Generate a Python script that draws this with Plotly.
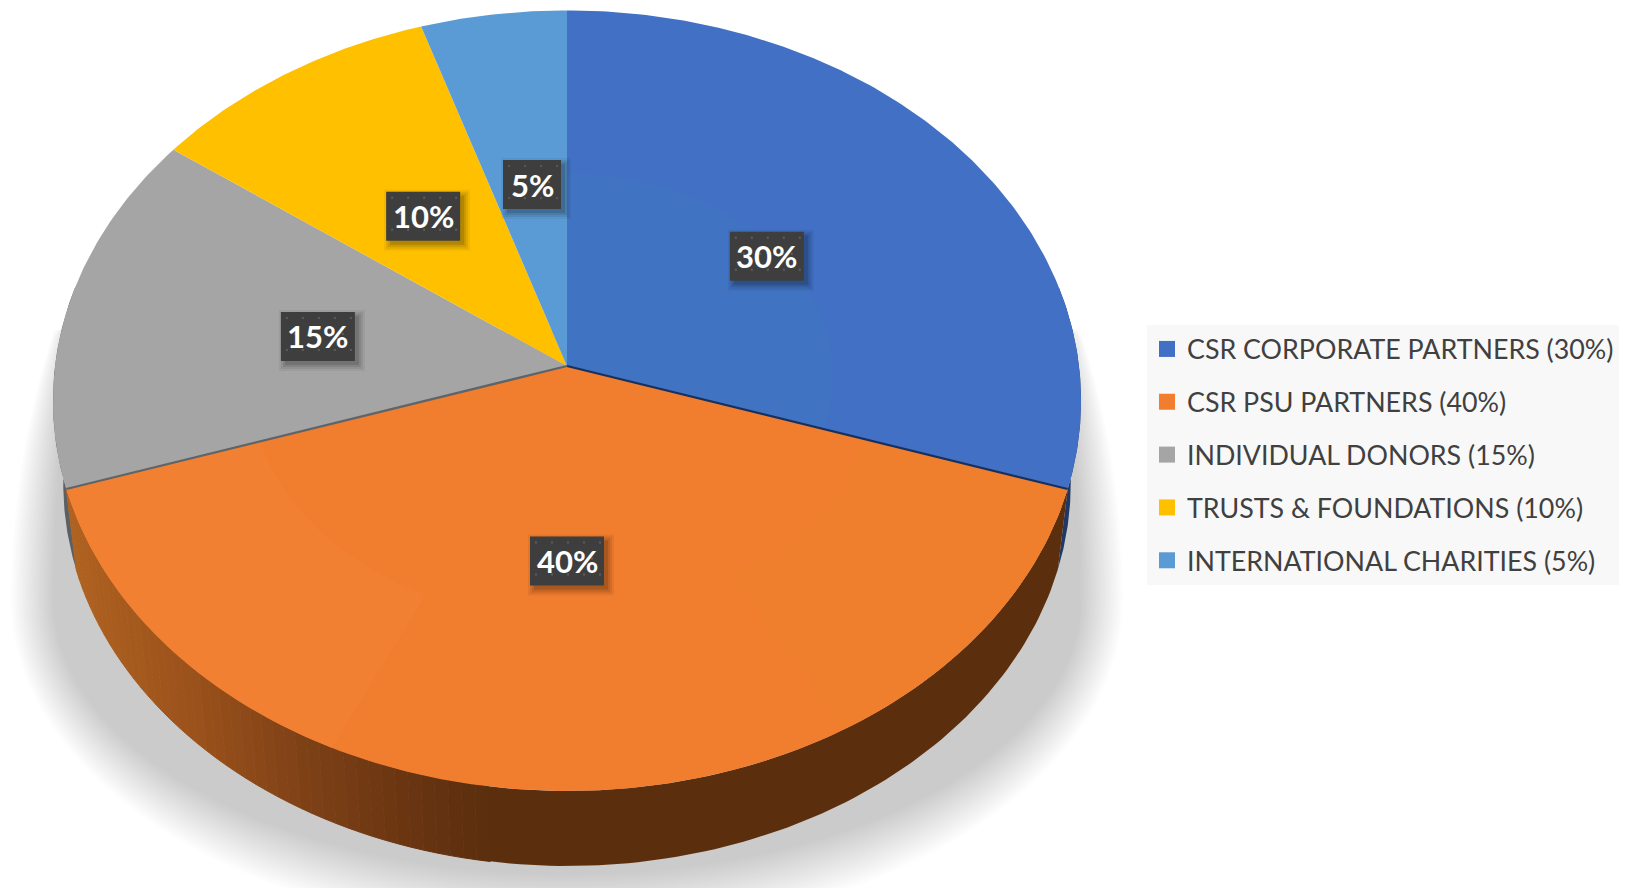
import numpy as np
import plotly.graph_objects as go

categories = ["CSR CORPORATE PARTNERS", "CSR PSU PARTNERS", "INDIVIDUAL DONORS",
              "TRUSTS & FOUNDATIONS", "INTERNATIONAL CHARITIES"]
values = [30, 40, 15, 10, 5]
colors = ["#4270C4", "#F17D2F", "#A5A5A5", "#FFC000", "#5B9BD5"]

W, H = 1625, 892
CX, CY, RX, RY, P = 567.0, 366.0, 512.0, 387.2, 0.0889
BOTTOM_SCALE, BOTTOM_CY = 0.98, 449.5
LABEL_R = [0.495, 0.482, 0.492, 0.495, 0.495]
LABEL_DX = [0, 0, -2, 0, 3]
WALL_FLAT_END = 188


def project(theta_deg, r=1.0, cy=CY, scale=1.0):
    t = np.radians(theta_deg)
    w = 1 + P * r * np.cos(t)
    return (CX + scale * RX * r * np.sin(t) / w,
            cy - scale * RY * r * np.cos(t) / w)


def poly(fig, xs, ys, color, line=None, lw=0):
    fig.add_trace(go.Scatter(
        x=list(xs), y=list(ys), mode="lines", fill="toself", fillcolor=color,
        line=dict(color=line or color, width=lw), hoverinfo="skip", showlegend=False))


def wall_color(x):
    stops_x = [60, 200, 300, 400, 490, 1100]
    stops = np.array([[178, 100, 32], [154, 81, 27], [127, 66, 23],
                      [108, 54, 18], [91, 47, 14], [91, 47, 14]])
    c = [np.interp(x, stops_x, stops[:, i]) for i in range(3)]
    return "rgb(%d,%d,%d)" % tuple(c)


fig = go.Figure()

# soft shadow under the pie: two half ellipses joined at the widest row
n_layers = 26
ang = np.linspace(0, 2 * np.pi, 241)
SHADOW_CY = 600
for k in range(n_layers):
    f = k / (n_layers - 1)
    rx = 556 - 42 * f
    ry_up = 700 + 200 * f
    ry_low = 335 - 60 * f
    c = np.cos(ang)
    xs = CX + rx * np.sin(ang)
    ys = np.where(c > 0, SHADOW_CY - ry_up * c, SHADOW_CY - ry_low * c)
    ys = np.clip(ys, 330, 888)
    poly(fig, xs, ys, "rgba(120,120,120,0.0165)")

# side walls
cum = np.cumsum([0] + values) * 3.6
wall_spans = [(78, cum[1], "#1F3864"), (cum[2], 282, "#5B6064"),
              (cum[1], WALL_FLAT_END + 1, wall_color(1000))]
for a, b, col in wall_spans:
    th = np.linspace(a, b, 80)
    x1, y1 = project(th)
    x2, y2 = project(th[::-1], cy=BOTTOM_CY, scale=BOTTOM_SCALE)
    poly(fig, np.r_[x1, x2], np.r_[y1, y2], col)

edges = np.linspace(WALL_FLAT_END, cum[2], 46)
for a, b in zip(edges[:-1], edges[1:]):
    th = np.linspace(a, b, 3)
    x1, y1 = project(th)
    x2, y2 = project(th[::-1], cy=BOTTOM_CY, scale=BOTTOM_SCALE)
    col = wall_color(float(np.mean(np.r_[x1, x2])))
    poly(fig, np.r_[x1, x2], np.r_[y1, y2], col, lw=1)

# top face
for i, col in enumerate(colors):
    th = np.linspace(cum[i], cum[i + 1], max(int(values[i] * 6), 12))
    x, y = project(th)
    poly(fig, np.r_[CX, x, CX], np.r_[CY, y, CY], col)

# faint lighting on the top face
th = np.linspace(cum[0], cum[1], 90)
x, y = project(th, r=0.52)
poly(fig, np.r_[CX, x, CX], np.r_[CY, y, CY], "#4173C3")
th = np.linspace(205, cum[2], 50)
x, y = project(th)
xi, yi = project(th[::-1], r=0.62)
poly(fig, np.r_[x, xi], np.r_[y, yi], "#F28032")
th = np.linspace(cum[1], 150, 40)
x, y = project(th)
xi, yi = project(th[::-1], r=0.6)
poly(fig, np.r_[x, xi], np.r_[y, yi], "#EF7E2D")

# dark rim lines along the two front edges of the top face
for ang_edge, col in ((cum[1], "#17305E"), (cum[2], "#5F6468")):
    x, y = project(np.array([ang_edge]))
    fig.add_trace(go.Scatter(x=[CX, x[0]], y=[CY, y[0]], mode="lines",
                             line=dict(color=col, width=2.2),
                             hoverinfo="skip", showlegend=False))

# legend entries
for name, val, col in zip(categories, values, colors):
    fig.add_trace(go.Scatter(
        x=[None], y=[None], mode="markers", name=f"{name} ({val}%)", legendgroup=name,
        marker=dict(symbol="square", size=17, color=col)))

# data labels
shapes, annotations = [], []
for i, val in enumerate(values):
    mid = (cum[i] + cum[i + 1]) / 2
    lx, ly = project(mid, r=LABEL_R[i])
    lx, ly = float(lx) + LABEL_DX[i], float(ly)
    hw = 29 if val < 10 else 37
    hh = 24.5
    for grow, alpha in ((6, 0.05), (4, 0.07), (2, 0.09), (0, 0.12)):
        shapes.append(dict(type="rect", layer="above", xref="x", yref="y", line_width=0,
                           x0=lx - hw + 4 - grow, x1=lx + hw + 4 + grow,
                           y0=ly - hh + 4 - grow, y1=ly + hh + 4 + grow,
                           fillcolor=f"rgba(0,0,0,{alpha})"))
    shapes.append(dict(type="rect", layer="above", xref="x", yref="y", line_width=0,
                       x0=lx - hw, x1=lx + hw, y0=ly - hh, y1=ly + hh, fillcolor="#3E3E3E"))
    for row, dy in enumerate(np.arange(-hh + 6, hh, 16)):
        for dx in np.arange(-hw + 6 + (row % 2) * 8, hw - 2, 16):
            shapes.append(dict(type="circle", layer="above", xref="x", yref="y", line_width=0,
                               x0=lx + dx - 1.2, x1=lx + dx + 1.2,
                               y0=ly + dy - 1.2, y1=ly + dy + 1.2, fillcolor="#5A5A5A"))
    annotations.append(dict(x=lx, y=ly, xref="x", yref="y", text=f"<b>{val}%</b>", showarrow=False,
                            font=dict(family="Lato", size=31, color="#FFFFFF")))

fig.update_layout(
    width=W, height=H, autosize=False,
    margin=dict(l=0, r=0, t=0, b=0, pad=0, autoexpand=False),
    paper_bgcolor="#FFFFFF", plot_bgcolor="#FFFFFF",
    xaxis=dict(range=[0, W], visible=False, fixedrange=True),
    yaxis=dict(range=[H, 0], visible=False, fixedrange=True),
    shapes=shapes, annotations=annotations, hovermode=False,
    legend=dict(x=1147 / W, y=1 - 325 / H, xanchor="left", yanchor="top",
                bgcolor="#F8F8F8", tracegroupgap=15, itemclick=False, itemdoubleclick=False,
                entrywidth=444, entrywidthmode="pixels",
                font=dict(family="Lato", size=26.8, color="#404040")),
)

fig.write_html("out.html", config=dict(displayModeBar=False),
               post_script="document.body.style.margin='0';document.body.style.overflow='hidden';")
